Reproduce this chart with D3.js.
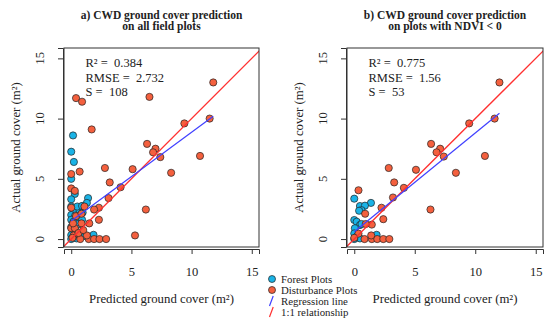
<!DOCTYPE html>
<html>
<head>
<meta charset="utf-8">
<script src="https://cdn.jsdelivr.net/npm/d3@7"></script>
<style>
  body { margin: 0; background: #fff; }
  text { font-family: "Liberation Serif", "Times New Roman", serif; fill: #222; }
</style>
</head>
<body>
<script>
// ---- data (predicted, actual) in m2 ----
const ticks = [0, 5, 10, 15];

const forestA = [[0.15,8.6],[0,7.25],[0.22,6.4],[0,5.0],[0.3,3.75],[1.4,3.4],[1.3,3.0],[0,3.3],
  [0,2.7],[0.2,2.35],[0.7,2.35],[0.95,2.2],[0.5,2.7],[0.9,2.75],[0,2.0],[0.33,1.95],[0.6,1.7],
  [0,1.6],[0.2,1.45],[0.9,1.6],[0.4,1.1],[0,1.0],[0.6,1.25],[0.2,0.6],[0,0.33],[0.35,0.2],
  [0.75,0.15],[1.15,0.25],[0,0],[1.85,0.35],[0.05,0.9],[0.45,0.05]];
const disturbA = [[11.8,13.0],[11.5,10.0],[9.4,9.6],[10.7,6.9],[6.5,11.8],[6.3,7.9],[7.0,7.5],
  [6.8,7.2],[7.4,6.8],[8.3,5.5],[5.1,5.8],[6.2,2.45],[5.3,0.3],[4.1,4.3],[3.2,4.7],[2.8,5.9],
  [3.1,3.4],[2.3,2.6],[1.9,2.45],[2.3,1.6],[1.7,9.1],[0.4,11.7],[0.9,11.4],[0.7,5.6],[0,5.4],
  [0,4.2],[0.3,4.0],[1.1,2.7],[0,2.6],[0.4,1.9],[0.85,2.1],[1.5,1.3],[0.85,1.3],[0.75,0],
  [1.45,0],[1.9,0],[2.35,0],[2.9,0],[0.2,0.3],[0,0.9],[1.3,0.3],[0.3,0.9],[0.15,1.3],
  [0.6,0.5],[1.0,0.75],[0.1,0.1]];

const forestB = [[0,3.35],[1.38,3.0],[0.47,2.74],[0.88,2.77],[0.6,2.4],[0.4,2.35],[0,1.58],
  [0.2,1.44],[0.47,1.16],[0.05,0.9],[0,0.47],[0.2,0.2],[0.47,0.05],[1.85,0.35],[0,0],[0.6,1.25]];
const disturbB = [[12.0,13.0],[11.6,10.0],[9.5,9.6],[10.8,6.9],[6.35,7.9],[7.1,7.5],[6.8,7.2],
  [7.4,6.85],[8.4,5.5],[5.1,5.75],[6.3,2.45],[4.1,4.25],[3.3,4.7],[2.85,5.9],[3.2,3.45],
  [2.25,2.6],[2.4,1.65],[0.35,4.05],[0.9,2.1],[1.45,1.2],[0.95,1.25],[0.35,0.45],[0.85,0],
  [1.45,0],[1.9,0],[2.4,0],[2.9,0],[1.4,0.3],[0,0.1]];

// regression fits [intercept, slope]
const fitA = [1.5, 0.737];
const fitB = [0.6, 0.82];

const titlesA = ["a) CWD ground cover prediction", "on all field plots"];
const titlesB = ["b) CWD ground cover prediction", "on plots with NDVI < 0"];
const statsA = ["R\u00b2 =  0.384", "RMSE =  2.732", "S =  108"];
const statsB = ["R\u00b2 =  0.775", "RMSE =  1.56", "S =  53"];
const legendLabels = ["Forest Plots", "Disturbance Plots", "Regression line", "1:1 relationship"];

const blue = "#1ab3e6", orange = "#f4603e";
const red = "#ff3030", lineBlue = "#4040ff";

const svg = d3.select("body").append("svg")
  .attr("width", 550)
  .attr("height", 325);

function panel(left, right, forest, disturb, fit, titles, stats, id) {
  const top = 48, bottom = 247;
  const x = d3.scaleLinear().domain([-0.6, 15.6]).range([left, right]);
  const y = d3.scaleLinear().domain([-0.66, 15.86]).range([bottom, top]);
  const cx = (left + right) / 2;

  const g = svg.append("g");

  g.append("clipPath").attr("id", "clip" + id)
    .append("rect").attr("x", left).attr("y", top)
    .attr("width", right - left).attr("height", bottom - top);

  // title
  g.selectAll(".title").data(titles).enter().append("text")
    .attr("x", cx)
    .attr("y", (d, i) => 18.5 + i * 11)
    .attr("text-anchor", "middle")
    .style("font-weight", "bold")
    .style("font-size", "11.5px")
    .text(d => d);

  // x axis
  const xa = g.append("g").attr("transform", "translate(0," + (bottom + 2) + ")")
    .call(d3.axisBottom(x).tickValues(ticks).tickSize(5).tickPadding(13));
  xa.select(".domain").attr("stroke", "#333");
  xa.selectAll(".tick line").attr("stroke", "#333");
  xa.selectAll("text").style("font-size", "12.5px").style("font-family", "Liberation Serif").attr("fill", "#222");

  // y axis
  const ya = g.append("g").attr("transform", "translate(" + (left - 1) + ",0)")
    .call(d3.axisLeft(y).tickValues(ticks).tickSize(5).tickFormat(() => ""));
  ya.select(".domain").attr("stroke", "#333");
  ya.selectAll(".tick line").attr("stroke", "#333");
  g.selectAll(".ytl").data(ticks).enter().append("text")
    .attr("transform", d => "translate(" + (left - 20.5) + "," + y(d) + ") rotate(-90)")
    .attr("text-anchor", "middle")
    .style("font-size", "12.5px")
    .text(d => d);

  // axis titles
  g.append("text")
    .attr("x", cx).attr("y", 303)
    .attr("text-anchor", "middle")
    .style("font-size", "12.8px")
    .text("Predicted ground cover (m\u00b2)");
  g.append("text")
    .attr("transform", "translate(" + (left - 44) + "," + ((top + bottom) / 2) + ") rotate(-90)")
    .attr("text-anchor", "middle")
    .style("font-size", "12.8px")
    .text("Actual ground cover (m\u00b2)");

  // points
  const pts = g.append("g").attr("clip-path", "url(#clip" + id + ")");
  pts.selectAll(".f").data(forest).enter().append("circle")
    .attr("cx", d => x(d[0])).attr("cy", d => y(d[1])).attr("r", 3.6)
    .attr("fill", blue).attr("stroke", "#222").attr("stroke-width", 0.7);
  pts.selectAll(".d").data(disturb).enter().append("circle")
    .attr("cx", d => x(d[0])).attr("cy", d => y(d[1])).attr("r", 3.6)
    .attr("fill", orange).attr("stroke", "#222").attr("stroke-width", 0.7);

  // 1:1 line
  pts.append("line")
    .attr("x1", x(-1)).attr("y1", y(-1)).attr("x2", x(17)).attr("y2", y(17))
    .attr("stroke", red).attr("stroke-width", 1.3);

  // regression line across predicted range
  const xr = d3.extent(forest.concat(disturb), d => d[0]);
  pts.append("line")
    .attr("x1", x(xr[0])).attr("y1", y(fit[0] + fit[1] * xr[0]))
    .attr("x2", x(xr[1])).attr("y2", y(fit[0] + fit[1] * xr[1]))
    .attr("stroke", lineBlue).attr("stroke-width", 1.2);

  // box
  g.append("rect").attr("x", left).attr("y", top)
    .attr("width", right - left).attr("height", bottom - top)
    .attr("fill", "none").attr("stroke", "#333").attr("stroke-width", 1);

  // stats
  g.selectAll(".st").data(stats).enter().append("text")
    .attr("x", left + 21.5)
    .attr("y", (d, i) => 67.3 + i * 14.2)
    .style("font-size", "12.5px")
    .style("white-space", "pre")
    .text(d => d);
}

panel(64, 259, forestA, disturbA, fitA, titlesA, statsA, "a");
panel(347, 543, forestB, disturbB, fitB, titlesB, statsB, "b");

// legend
const lg = svg.append("g").attr("transform", "translate(272,279)");
const step = 11;
lg.selectAll("circle").data([blue, orange]).enter().append("circle")
  .attr("cx", 0).attr("cy", (d, i) => i * step).attr("r", 3.5)
  .attr("fill", d => d).attr("stroke", "#222").attr("stroke-width", 0.7);
lg.selectAll("line").data([lineBlue, red]).enter().append("line")
  .attr("x1", -2.5).attr("y1", (d, i) => (i + 2) * step + 5)
  .attr("x2", 1.2).attr("y2", (d, i) => (i + 2) * step - 5)
  .attr("stroke", d => d).attr("stroke-width", 1.2);
lg.selectAll("text").data(legendLabels).enter().append("text")
  .attr("x", 9).attr("y", (d, i) => i * step + 3.5)
  .style("font-size", "10.8px")
  .text(d => d);
</script>
</body>
</html>
